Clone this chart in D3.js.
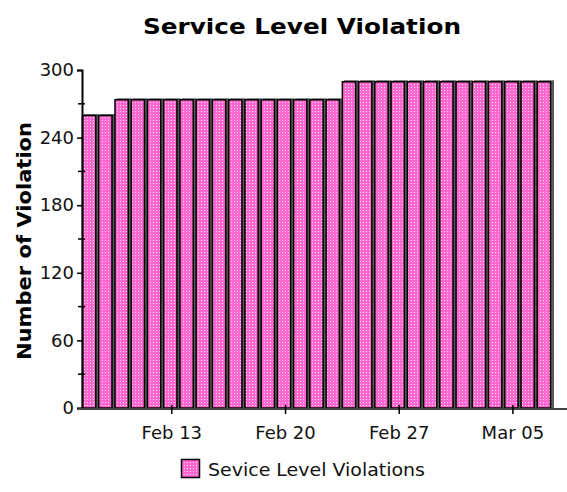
<!DOCTYPE html>
<html>
<head>
<meta charset="utf-8">
<script src="https://cdn.jsdelivr.net/npm/d3@7"></script>
<style>
  body { margin: 0; background: #fff; }
  text { font-family: "DejaVu Sans", sans-serif; }
</style>
</head>
<body>
<div id="chart"></div>
<script>
// Data (one bar per day, leap year)
const days = [
  "2004-02-08", "2004-02-09", "2004-02-10", "2004-02-11", "2004-02-12", "2004-02-13",
  "2004-02-14", "2004-02-15", "2004-02-16", "2004-02-17", "2004-02-18", "2004-02-19",
  "2004-02-20", "2004-02-21", "2004-02-22", "2004-02-23", "2004-02-24", "2004-02-25",
  "2004-02-26", "2004-02-27", "2004-02-28", "2004-02-29", "2004-03-01", "2004-03-02",
  "2004-03-03", "2004-03-04", "2004-03-05", "2004-03-06", "2004-03-07"
];
const violations = [
  260, 260, 274, 274, 274, 274, 274, 274, 274, 274, 274, 274, 274, 274, 274, 274,
  290, 290, 290, 290, 290, 290, 290, 290, 290, 290, 290, 290, 290
];
const yTicks = [0, 60, 120, 180, 240, 300];
const yMinorTicks = [30, 90, 150, 210, 270];
const xTicks = ["2004-02-13", "2004-02-20", "2004-02-27", "2004-03-05"];

const parse = d3.timeParse("%Y-%m-%d");
const data = days.map((d, i) => ({ date: parse(d), value: violations[i] }));

const width = 567, height = 492;
const plotLeft = 82, plotRight = 553, plotTop = 70, plotBottom = 408;
const pink = "#ff66d0";

const svg = d3.select("#chart").append("svg")
  .attr("width", width)
  .attr("height", height);

// white dither dots laid over the pink
const pat = svg.append("defs").append("pattern")
  .attr("id", "dots")
  .attr("width", 3).attr("height", 3)
  .attr("patternUnits", "userSpaceOnUse");
pat.append("rect").attr("width", 1).attr("height", 1).attr("fill", "#ffffff").attr("fill-opacity", 0.8);

const dayMs = 864e5;
const x = d3.scaleTime()
  .domain([new Date(data[0].date - dayMs / 2), new Date(+data[data.length - 1].date + dayMs / 2)])
  .range([plotLeft, plotRight]);
const y = d3.scaleLinear().domain([0, 300]).range([plotBottom, plotTop]);

const bw = x(new Date(+data[0].date + dayMs)) - x(data[0].date);

// title
svg.append("text")
  .attr("x", 302).attr("y", 34)
  .attr("text-anchor", "middle")
  .attr("font-weight", "bold")
  .attr("font-size", 22)
  .attr("textLength", 318)
  .attr("lengthAdjust", "spacingAndGlyphs")
  .text("Service Level Violation");

// bars
const bars = svg.append("g");
bars.selectAll("rect.shadow")
  .data(data)
  .enter().append("rect")
  .attr("class", "shadow")
  .attr("x", d => x(d.date) - bw / 2 + 2)
  .attr("y", d => y(d.value) - 1)
  .attr("width", bw - 1)
  .attr("height", d => plotBottom - y(d.value) + 1)
  .attr("fill", "#5a5a5a");
bars.selectAll("rect.bar")
  .data(data)
  .enter().append("rect")
  .attr("class", "bar")
  .attr("x", d => x(d.date) - bw / 2 + 0.5)
  .attr("y", d => y(d.value) + 0.5)
  .attr("width", bw - 3)
  .attr("height", d => plotBottom - y(d.value) - 0.5)
  .attr("fill", pink)
  .attr("stroke", "#000")
  .attr("stroke-width", 1.5);
bars.selectAll("rect.dots")
  .data(data)
  .enter().append("rect")
  .attr("class", "dots")
  .attr("x", d => x(d.date) - bw / 2 + 1.5)
  .attr("y", d => y(d.value) + 1.5)
  .attr("width", bw - 5)
  .attr("height", d => plotBottom - y(d.value) - 2.5)
  .attr("fill", "url(#dots)");

// y axis
const yAxis = svg.append("g")
  .attr("transform", `translate(${plotLeft},0)`)
  .call(d3.axisLeft(y).tickValues(yTicks).tickSize(5).tickPadding(3));
yAxis.select(".domain").attr("stroke-width", 2);
yAxis.selectAll(".tick line").attr("stroke-width", 1.5);
yAxis.selectAll("text").attr("font-size", 18).attr("fill", "#111");
yAxis.selectAll(".minor")
  .data(yMinorTicks)
  .enter().append("line")
  .attr("class", "minor")
  .attr("x1", -4).attr("x2", 3)
  .attr("y1", d => y(d)).attr("y2", d => y(d))
  .attr("stroke", "#000").attr("stroke-width", 1.5);

// x axis
svg.append("line")
  .attr("x1", 78).attr("x2", width)
  .attr("y1", plotBottom + 1).attr("y2", plotBottom + 1)
  .attr("stroke", "#444").attr("stroke-width", 2);
const xAxis = svg.append("g")
  .attr("transform", `translate(0,${plotBottom + 1})`)
  .call(d3.axisBottom(x)
    .tickValues(xTicks.map(parse))
    .tickFormat(d3.timeFormat("%b %d"))
    .tickSize(5)
    .tickPadding(12));
xAxis.select(".domain").remove();
xAxis.selectAll(".tick line").attr("y1", -4).attr("stroke-width", 1.5);
xAxis.selectAll("text").attr("font-size", 18).attr("fill", "#111");

// y axis title
svg.append("text")
  .attr("transform", `translate(31,${(plotTop + plotBottom) / 2 + 2}) rotate(-90)`)
  .attr("text-anchor", "middle")
  .attr("font-weight", "bold")
  .attr("font-size", 19)
  .attr("textLength", 238)
  .attr("lengthAdjust", "spacingAndGlyphs")
  .text("Number of Violation");

// legend
const legend = svg.append("g").attr("transform", "translate(181,459)");
legend.append("rect")
  .attr("x", 0.5).attr("y", 0.5)
  .attr("width", 18).attr("height", 18)
  .attr("fill", pink)
  .attr("stroke", "#000").attr("stroke-width", 1.5);
legend.append("rect")
  .attr("x", 2).attr("y", 2)
  .attr("width", 15).attr("height", 15)
  .attr("fill", "url(#dots)");
legend.append("text")
  .attr("x", 27).attr("y", 17)
  .attr("font-size", 17)
  .attr("fill", "#111")
  .attr("textLength", 217)
  .attr("lengthAdjust", "spacingAndGlyphs")
  .text("Sevice Level Violations");
</script>
</body>
</html>
